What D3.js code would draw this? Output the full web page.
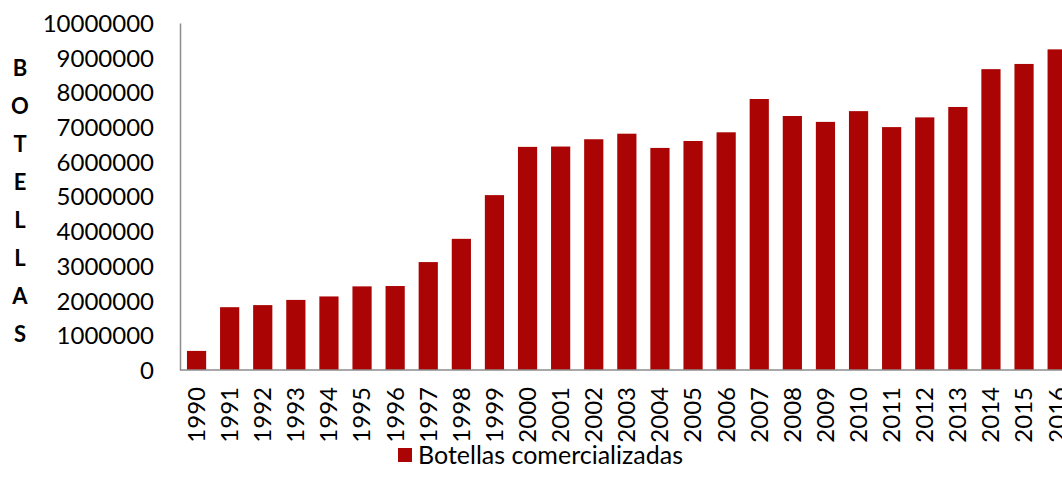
<!DOCTYPE html>
<html>
<head>
<meta charset="utf-8">
<script src="https://cdn.jsdelivr.net/npm/d3@7"></script>
<style>
  body { margin: 0; background: #fff; }
  text { font-family: Lato, "Open Sans", sans-serif; fill: #000; }
</style>
</head>
<body>
<div id="chart"></div>
<script>
// Data
var years = ['1990','1991','1992','1993','1994','1995','1996','1997','1998','1999',
             '2000','2001','2002','2003','2004','2005','2006','2007','2008','2009',
             '2010','2011','2012','2013','2014','2015','2016'];
var botellas = [550000, 1810000, 1870000, 2020000, 2120000, 2410000, 2420000, 3110000, 3780000, 5040000,
                6430000, 6440000, 6650000, 6810000, 6400000, 6600000, 6850000, 7810000, 7320000, 7150000,
                7460000, 7000000, 7280000, 7580000, 8670000, 8820000, 9240000];
var yTicks = [0,1000000,2000000,3000000,4000000,5000000,6000000,7000000,8000000,9000000,10000000];
var axisTitle = 'BOTELLAS';
var seriesName = 'Botellas comercializadas';

var width = 1062;
var height = 493;
var barColor = '#ab0404';

var svg = d3.select('#chart').append('svg')
    .attr('width', width)
    .attr('height', height);

var plotLeft = 180, plotTop = 23, plotBottom = 370;
var step = 33.1;

var x = d3.scaleBand()
    .domain(years)
    .range([plotLeft, plotLeft + step * years.length])
    .paddingInner(0.42)
    .paddingOuter(0.21);

var y = d3.scaleLinear()
    .domain([0, 10000000])
    .range([plotBottom, plotTop]);

// bars
svg.append('g').selectAll('rect')
    .data(years)
    .enter().append('rect')
    .attr('x', function(d) { return x(d); })
    .attr('width', x.bandwidth())
    .attr('y', function(d, i) { return y(botellas[i]); })
    .attr('height', function(d, i) { return plotBottom - y(botellas[i]); })
    .style('fill', barColor);

// y axis
var yAxis = svg.append('g')
    .attr('transform', 'translate(' + plotLeft + ',0)')
    .call(d3.axisLeft(y).tickValues(yTicks).tickFormat(d3.format('d')).tickSize(0).tickPadding(26));
yAxis.select('.domain').attr('stroke', '#8c8c8c').attr('stroke-width', 1.5);
yAxis.selectAll('text').style('font-size', '24px').attr('dy', '0.35em');

// x axis
var xAxis = svg.append('g')
    .attr('transform', 'translate(0,' + plotBottom + ')')
    .call(d3.axisBottom(x).tickSize(0));
xAxis.select('.domain').attr('stroke', '#8c8c8c').attr('stroke-width', 1.5)
    .attr('d', 'M' + plotLeft + ',0H' + width);
xAxis.selectAll('text')
    .style('font-size', '24px')
    .attr('text-anchor', 'end')
    .attr('transform', 'rotate(-90)')
    .attr('x', -17)
    .attr('y', 0)
    .attr('dy', '0.35em');

// vertical stacked axis title
svg.append('g').selectAll('text')
    .data(axisTitle.split(''))
    .enter().append('text')
    .attr('x', 20)
    .attr('y', function(d, i) { return 68 + i * 38; })
    .attr('dy', '0.35em')
    .attr('text-anchor', 'middle')
    .style('font-size', '22px')
    .style('font-weight', 'bold')
    .text(function(d) { return d; });

// legend
var legend = svg.append('g').attr('transform', 'translate(398,448)');
legend.append('rect').attr('width', 14).attr('height', 14).style('fill', barColor);
legend.append('text')
    .attr('x', 20)
    .attr('y', 7)
    .attr('dy', '0.35em')
    .style('font-size', '25px')
    .text(seriesName);
</script>
</body>
</html>
